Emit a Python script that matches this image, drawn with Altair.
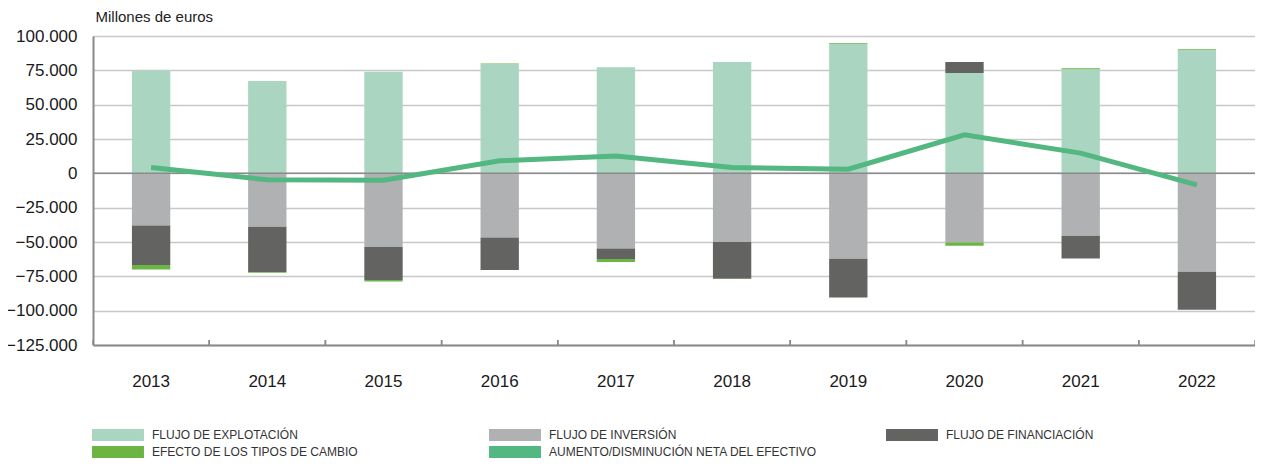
import altair as alt
import pandas as pd

years = ["2013", "2014", "2015", "2016", "2017", "2018", "2019", "2020", "2021", "2022"]
explotacion = [74800, 67300, 74000, 79600, 77200, 81100, 94400, 73100, 75800, 89800]
inversion = [-38000, -38900, -53700, -46700, -54700, -50000, -62200, -50300, -45500, -71600]
financiacion = [-28800, -33000, -24000, -23700, -7700, -26700, -28300, 8000, -16500, -27700]
tipos_cambio = [-3300, -500, -1000, 300, -2200, -300, 500, -2400, 800, 500]
neto = [4200, -4700, -5000, 9100, 12700, 4200, 3000, 28000, 14700, -8400]

series = [
    "FLUJO DE EXPLOTACIÓN",
    "FLUJO DE INVERSIÓN",
    "FLUJO DE FINANCIACIÓN",
    "EFECTO DE LOS TIPOS DE CAMBIO",
    "AUMENTO/DISMINUCIÓN NETA DEL EFECTIVO",
]
colors = ["#aad6c1", "#b0b1b3", "#636361", "#6db543", "#52b781"]
y_ticks = [-125000, -100000, -75000, -50000, -25000, 0, 25000, 50000, 75000, 100000]

rows = []
for k, vals in enumerate([explotacion, inversion, financiacion, tipos_cambio]):
    for i, yr in enumerate(years):
        rows.append({"year": yr, "serie": series[k], "valor": vals[i], "orden": k})
bars_df = pd.DataFrame(rows)
line_df = pd.DataFrame({"year": years, "serie": series[4], "valor": neto})
years_df = pd.DataFrame({"year": years})
zero_df = pd.DataFrame({"valor": [0]})

FONT = "Liberation Sans"
H = 309

x_scale = alt.Scale(domain=years, paddingInner=0, paddingOuter=0)
x_axis = alt.Axis(
    ticks=False, labelFontSize=17, labelColor="#1a1a1a", labelFont=FONT,
    labelPadding=28, labelAngle=0, domainColor="#8a8a8a", domainWidth=2, grid=False,
)
x = alt.X("year:N", scale=x_scale, axis=x_axis, title=None)

y_scale = alt.Scale(domain=[-125000, 100000], nice=False, zero=True)
y_axis = alt.Axis(
    values=y_ticks, ticks=False, labelFontSize=17, labelColor="#1a1a1a", labelFont=FONT,
    labelPadding=16, labelExpr="replace(format(datum.value, ','), ',', '.')",
    domainColor="#8a8a8a", domainWidth=2, grid=True, gridColor="#c8c8c8", gridWidth=1.5,
    titleAngle=0, titleAlign="left", titleBaseline="middle", titleX=2, titleY=-20,
    titleFontSize=15, titleFontWeight="normal", titleColor="#222222", titleFont=FONT,
)
y = alt.Y("valor:Q", scale=y_scale, axis=y_axis, title="Millones de euros", stack="zero")

color = alt.Color(
    "serie:N",
    scale=alt.Scale(domain=series, range=colors),
    legend=alt.Legend(
        title=None, orient="none", direction="horizontal", legendX=19, legendY=393, columns=3,
        gridAlign="all", columnPadding=68, rowPadding=5,
        symbolType="M-4.33,-1L4.33,-1L4.33,1L-4.33,1Z", symbolSize=144,
        symbolStrokeWidth=0, symbolOpacity=1, labelOffset=28,
        labelFont=FONT, labelFontSize=12, labelColor="#333333",
        labelLimit=400,
    ),
)

bars = alt.Chart(bars_df).mark_bar(width=alt.RelativeBandSize(0.33)).encode(
    x=x, y=y, color=color, order=alt.Order("orden:Q")
)

zero_rule = alt.Chart(zero_df).mark_rule(color="#8a8a8a", strokeWidth=1.5).encode(
    y=alt.Y("valor:Q", scale=y_scale, axis=y_axis, title="Millones de euros")
)

tick_l = alt.Chart(years_df).mark_rule(color="#8a8a8a", strokeWidth=1.5).encode(
    x=alt.X("year:N", scale=x_scale, axis=x_axis, title=None, bandPosition=0),
    y=alt.value(H - 5), y2=alt.value(H),
)
tick_r = alt.Chart(years_df).mark_rule(color="#8a8a8a", strokeWidth=1.5).encode(
    x=alt.X("year:N", scale=x_scale, axis=x_axis, title=None, bandPosition=1),
    y=alt.value(H - 5), y2=alt.value(H),
)

line = alt.Chart(line_df).mark_line(strokeWidth=5).encode(
    x=x, y=alt.Y("valor:Q", scale=y_scale, axis=y_axis, title="Millones de euros"), color=color
)

chart = (
    alt.layer(bars, zero_rule, tick_l, tick_r, line)
    .properties(
        width=1162, height=H, autosize="none",
        padding={"left": 85, "top": 28, "right": 0, "bottom": 116},
    )
    .configure_view(stroke=None)
    .configure(font=FONT)
)

chart.save("out.html", embed_options={"renderer": "svg", "actions": False})
